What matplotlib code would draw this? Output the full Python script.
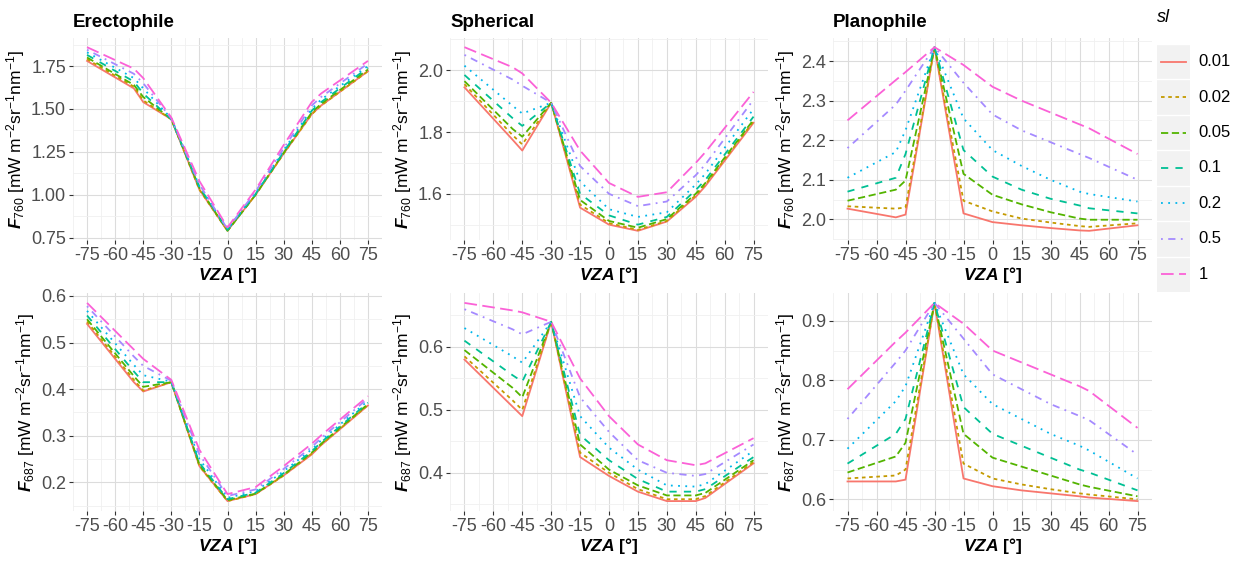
import matplotlib
matplotlib.use("Agg")
import matplotlib.pyplot as plt
from matplotlib.ticker import MultipleLocator, FormatStrFormatter

plt.rcParams['font.family'] = ['Liberation Sans', 'DejaVu Sans']
plt.rcParams['axes.unicode_minus'] = False
plt.rcParams['mathtext.fontset'] = 'custom'
plt.rcParams['mathtext.rm'] = 'Liberation Sans'
plt.rcParams['mathtext.it'] = 'Liberation Sans:italic'
plt.rcParams['mathtext.bf'] = 'Liberation Sans:bold'
plt.rcParams['mathtext.bfit'] = 'Liberation Sans:italic:bold'

# view zenith angles
vza = [-75, -50, -45, -30, -15, 0, 15, 30, 45, 50, 75]
sl_labels = ["0.01", "0.02", "0.05", "0.1", "0.2", "0.5", "1"]

# F760, one row per sl value
erecto_760 = [
    [1.780, 1.620, 1.540, 1.440, 1.030, 0.790, 1.000, 1.240, 1.470, 1.520, 1.720],
    [1.790, 1.630, 1.550, 1.440, 1.030, 0.790, 1.000, 1.240, 1.470, 1.520, 1.720],
    [1.800, 1.640, 1.570, 1.440, 1.040, 0.790, 1.000, 1.245, 1.480, 1.530, 1.730],
    [1.815, 1.660, 1.590, 1.440, 1.045, 0.795, 1.005, 1.250, 1.490, 1.540, 1.740],
    [1.830, 1.680, 1.620, 1.445, 1.050, 0.800, 1.010, 1.260, 1.500, 1.555, 1.750],
    [1.845, 1.705, 1.650, 1.445, 1.060, 0.800, 1.020, 1.270, 1.520, 1.570, 1.765],
    [1.860, 1.735, 1.680, 1.450, 1.080, 0.810, 1.030, 1.290, 1.540, 1.590, 1.780],
]
spher_760 = [
    [1.945, 1.775, 1.740, 1.895, 1.555, 1.500, 1.480, 1.510, 1.590, 1.625, 1.830],
    [1.955, 1.790, 1.760, 1.895, 1.565, 1.505, 1.483, 1.512, 1.595, 1.630, 1.835],
    [1.965, 1.810, 1.785, 1.895, 1.580, 1.512, 1.490, 1.518, 1.600, 1.635, 1.840],
    [1.985, 1.845, 1.820, 1.895, 1.600, 1.530, 1.500, 1.525, 1.612, 1.645, 1.850],
    [2.015, 1.885, 1.860, 1.895, 1.640, 1.550, 1.525, 1.540, 1.630, 1.665, 1.875],
    [2.050, 1.970, 1.950, 1.895, 1.690, 1.600, 1.560, 1.575, 1.660, 1.695, 1.905],
    [2.075, 2.010, 1.990, 1.895, 1.740, 1.635, 1.590, 1.605, 1.700, 1.735, 1.930],
]
plano_760 = [
    [2.027, 2.005, 2.012, 2.435, 2.015, 1.993, 1.985, 1.978, 1.972, 1.971, 1.985],
    [2.033, 2.027, 2.030, 2.435, 2.047, 2.020, 2.002, 1.992, 1.983, 1.981, 1.990],
    [2.047, 2.075, 2.098, 2.435, 2.115, 2.062, 2.038, 2.018, 2.002, 1.999, 1.999],
    [2.070, 2.105, 2.165, 2.435, 2.175, 2.108, 2.075, 2.052, 2.035, 2.028, 2.015],
    [2.105, 2.170, 2.225, 2.435, 2.255, 2.175, 2.135, 2.100, 2.070, 2.064, 2.045],
    [2.180, 2.290, 2.325, 2.435, 2.345, 2.265, 2.225, 2.195, 2.165, 2.155, 2.100],
    [2.250, 2.352, 2.372, 2.435, 2.390, 2.335, 2.300, 2.270, 2.240, 2.230, 2.165],
]

# F687, one row per sl value
erecto_687 = [
    [0.540, 0.415, 0.395, 0.415, 0.235, 0.160, 0.175, 0.215, 0.260, 0.280, 0.365],
    [0.545, 0.420, 0.397, 0.415, 0.235, 0.160, 0.175, 0.215, 0.262, 0.281, 0.366],
    [0.550, 0.428, 0.405, 0.415, 0.238, 0.162, 0.176, 0.217, 0.264, 0.283, 0.368],
    [0.558, 0.438, 0.415, 0.415, 0.242, 0.164, 0.178, 0.220, 0.267, 0.286, 0.371],
    [0.568, 0.452, 0.430, 0.416, 0.250, 0.167, 0.181, 0.224, 0.271, 0.290, 0.375],
    [0.578, 0.470, 0.450, 0.418, 0.260, 0.171, 0.185, 0.229, 0.276, 0.295, 0.380],
    [0.585, 0.485, 0.465, 0.420, 0.270, 0.175, 0.190, 0.235, 0.283, 0.301, 0.385],
]
spher_687 = [
    [0.580, 0.505, 0.490, 0.640, 0.425, 0.395, 0.370, 0.355, 0.355, 0.360, 0.415],
    [0.585, 0.515, 0.500, 0.640, 0.432, 0.400, 0.374, 0.358, 0.358, 0.363, 0.417],
    [0.595, 0.535, 0.520, 0.640, 0.445, 0.405, 0.380, 0.364, 0.364, 0.368, 0.420],
    [0.610, 0.555, 0.545, 0.640, 0.460, 0.420, 0.390, 0.370, 0.370, 0.374, 0.425],
    [0.630, 0.585, 0.575, 0.640, 0.490, 0.440, 0.405, 0.380, 0.378, 0.382, 0.435],
    [0.660, 0.628, 0.620, 0.640, 0.520, 0.465, 0.420, 0.400, 0.395, 0.398, 0.445],
    [0.670, 0.658, 0.655, 0.640, 0.550, 0.490, 0.445, 0.420, 0.412, 0.415, 0.455],
]
plano_687 = [
    [0.630, 0.630, 0.633, 0.930, 0.635, 0.622, 0.615, 0.610, 0.605, 0.603, 0.597],
    [0.635, 0.640, 0.650, 0.930, 0.660, 0.635, 0.625, 0.617, 0.610, 0.608, 0.600],
    [0.645, 0.672, 0.695, 0.930, 0.710, 0.670, 0.655, 0.640, 0.625, 0.621, 0.605],
    [0.660, 0.710, 0.735, 0.930, 0.755, 0.710, 0.690, 0.670, 0.650, 0.645, 0.615],
    [0.685, 0.765, 0.790, 0.930, 0.810, 0.760, 0.735, 0.710, 0.690, 0.682, 0.635],
    [0.735, 0.830, 0.850, 0.930, 0.870, 0.810, 0.785, 0.760, 0.740, 0.733, 0.675],
    [0.785, 0.865, 0.880, 0.930, 0.895, 0.850, 0.830, 0.810, 0.790, 0.782, 0.720],
]

colors = ["#F8766D", "#C49A00", "#53B400", "#00C094", "#00B6EB", "#A58AFF", "#FB61D7"]
styles = ["-", (0, (2, 2)), (0, (4, 2)), (0, (4, 4)), (0, (1, 3)), (0, (1, 3, 4, 3)), (0, (7, 3))]

W, H = 1243, 561
fig = plt.figure(figsize=(W / 100, H / 100), dpi=100)


def px_axes(x0, y0, x1, y1):
    return fig.add_axes([x0 / W, 1 - y1 / H, (x1 - x0) / W, (y1 - y0) / H])


def draw(ax, data, title, ystep, fmt, band):
    for vals, c, ls in zip(data, colors, styles):
        ax.plot(vza, vals, color=c, linestyle=ls, lw=1.3)
    ax.set_xticks(range(-75, 76, 15))
    ax.xaxis.set_minor_locator(MultipleLocator(7.5))
    ax.yaxis.set_major_locator(MultipleLocator(ystep))
    ax.yaxis.set_minor_locator(MultipleLocator(ystep / 2))
    ax.yaxis.set_major_formatter(FormatStrFormatter(fmt))
    ax.grid(which="major", color="#DCDCDC", lw=0.8)
    ax.grid(which="minor", color="#F0F0F0", lw=0.6)
    ax.set_axisbelow(True)
    for s in ax.spines.values():
        s.set_visible(False)
    ax.tick_params(which="major", length=3, color="#333333", labelcolor="#4D4D4D",
                   labelsize=13, pad=2)
    ax.tick_params(which="minor", length=0)
    ax.set_xlabel(r"$\mathbfit{VZA}$ [°]", fontsize=12.5, fontweight="bold", labelpad=1)
    ax.set_ylabel(r"$\mathbfit{F}_{%s}$ [mW m$^{-2}$sr$^{-1}$nm$^{-1}$]" % band,
                  fontsize=12.5, labelpad=3)
    if title:
        ax.set_title(title, loc="left", fontsize=13.5, fontweight="bold", pad=8)


cols = [(73, 382), (450, 768), (833, 1152)]
top = [(erecto_760, "Erectophile", 0.25, "%.2f"),
       (spher_760, "Spherical", 0.2, "%.1f"),
       (plano_760, "Planophile", 0.1, "%.1f")]
bottom = [(erecto_687, 0.1, "%.1f"),
          (spher_687, 0.1, "%.1f"),
          (plano_687, 0.1, "%.1f")]

for (x0, x1), (data, title, step, fmt) in zip(cols, top):
    ax = px_axes(x0, 38, x1, 240)
    draw(ax, data, title, step, fmt, "760")

for (x0, x1), (data, step, fmt) in zip(cols, bottom):
    ax = px_axes(x0, 293, x1, 511)
    draw(ax, data, None, step, fmt, "687")

# legend
leg = px_axes(1157, 44, 1190, 292)
leg.set_xlim(0, 1)
leg.set_ylim(len(sl_labels), 0)
leg.set_facecolor("#F2F2F2")
for s in leg.spines.values():
    s.set_visible(False)
leg.set_xticks([])
leg.set_yticks([])
for i, (lab, c, ls) in enumerate(zip(sl_labels, colors, styles)):
    leg.plot([0.12, 0.88], [i + 0.5, i + 0.5], color=c, linestyle=ls, lw=1.3)
    leg.axhline(i, color="white", lw=1)
    leg.text(1.25, i + 0.5, lab, va="center", ha="left", fontsize=12,
             transform=leg.transData, clip_on=False)
fig.text(1157 / W, 1 - 17 / H, "sl", fontsize=13, style="italic", va="center", ha="left")

fig.savefig("out.png", dpi=100)
